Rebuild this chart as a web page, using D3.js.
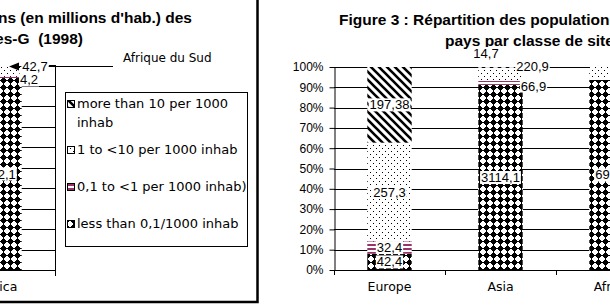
<!DOCTYPE html>
<html lang="fr">
<head>
<meta charset="UTF-8">
<title>Répartition des populations par classe</title>
<script src="https://cdn.jsdelivr.net/npm/d3@7"></script>
<style>
    body { margin: 0; background: #fff; }
    svg { display: block; }
</style>
</head>
<body>
<script>

    // catégories et séries (millions d'hab.)
    var categories = ["Europe", "Asia", "Africa"];
    var leftCategories = ["Africa"];
    var seriesNames = ["more than 10 per 1000 inhab", "1 to <10 per 1000 inhab",
                       "0,1 to <1 per 1000 inhab)", "less than 0,1/1000 inhab"];
    var moreThan10 = [197.38, 14.7, 0];
    var from1to10  = [257.3, 220.9, 42.7];
    var from01to1  = [32.4, 66.9, 4.2];
    var lessThan01 = [42.4, 3114.1, 692.1];
    var yTicks = [0, 0.1, 0.2, 0.3, 0.4, 0.5, 0.6, 0.7, 0.8, 0.9, 1];

    // ordre d'empilement, du bas vers le haut
    var stackKeys = ["lessThan01", "from01to1", "from1to10", "moreThan10"];
    var legendKeys = ["moreThan10", "from1to10", "from01to1", "lessThan01"];
    var fills = {
        moreThan10: "url(#pHatch)",
        from1to10: "url(#pDots)",
        from01to1: "url(#pStripes)",
        lessThan01: "url(#pDiamond)"
    };

    function makeRows(cats) {
        return cats.map(function (c) {
            var i = categories.indexOf(c);
            return {cat: c, lessThan01: lessThan01[i], from01to1: from01to1[i],
                    from1to10: from1to10[i], moreThan10: moreThan10[i]};
        });
    }

    var numFont = "Arial, 'Liberation Sans', sans-serif";
    var textFont = "'DejaVu Sans', Verdana, sans-serif";

    var svg = d3.select("body").append("svg")
        .attr("width", 610)
        .attr("height", 307);

    // motifs
    var defs = svg.append("defs");
    function pattern(id, w, h) {
        var p = defs.append("pattern").attr("id", id)
            .attr("patternUnits", "userSpaceOnUse")
            .attr("width", w).attr("height", h);
        p.append("rect").attr("width", w).attr("height", h).attr("fill", "#fff");
        return p;
    }
    pattern("pHatch", 8, 8).append("path")
        .attr("d", "M-2,-2L10,10M-2,6L2,10M6,-2L10,2")
        .attr("stroke", "#000").attr("stroke-width", 2.6);
    var pd = pattern("pDots", 6, 6);
    pd.append("rect").attr("x", 1).attr("y", 1).attr("width", 1).attr("height", 1).attr("fill", "#000");
    pd.append("rect").attr("x", 4).attr("y", 4).attr("width", 1).attr("height", 1).attr("fill", "#000");
    pattern("pStripes", 4, 4).append("rect")
        .attr("width", 4).attr("height", 2).attr("fill", "#993366");
    pattern("pDiamond", 7, 7).append("path")
        .attr("d", "M3.5,0.3L6.7,3.5L3.5,6.7L0.3,3.5Z").attr("fill", "#000")
        .attr("shape-rendering", "crispEdges");

    function fmt(v) { return String(v).replace(".", ","); }

    // étiquette avec fond blanc
    function addLabel(g, x, y, txt) {
        var lg = g.append("g");
        var t = lg.append("text")
            .attr("x", x).attr("y", y).attr("dy", "0.35em")
            .attr("text-anchor", "middle")
            .style("font-family", numFont).style("font-size", "13px")
            .text(txt);
        var b = t.node().getBBox();
        lg.insert("rect", "text")
            .attr("x", b.x - 1).attr("y", b.y + 1)
            .attr("width", b.width + 2).attr("height", b.height - 2)
            .attr("fill", "#fff");
    }

    function drawBars(g, rows, x, y, offsets, hidden) {
        var stacked = d3.stack().keys(stackKeys).offset(d3.stackOffsetExpand)(rows);
        stacked.forEach(function (layer) {
            g.selectAll(null)
                .data(layer)
                .enter()
                .append("rect")
                .attr("x", function (d) { return x(d.data.cat); })
                .attr("y", function (d) { return y(d[1]); })
                .attr("width", x.bandwidth())
                .attr("height", function (d) { return y(d[0]) - y(d[1]); })
                .attr("fill", fills[layer.key]);
        });
        stacked.forEach(function (layer) {
            layer.forEach(function (d) {
                var v = d.data[layer.key];
                var id = d.data.cat + "|" + layer.key;
                if (!v || hidden.indexOf(id) >= 0) return;
                var off = offsets[id] || [0, 0];
                addLabel(g, x(d.data.cat) + x.bandwidth() / 2 + off[0],
                         y((d[0] + d[1]) / 2) + off[1], fmt(v));
            });
        });
    }

    // ---------- graphique de gauche (coupé) ----------
    var left = svg.append("g");
    var xL = d3.scaleBand().domain(leftCategories).range([-56, 55])
        .paddingInner(0.6).paddingOuter(0.3);
    var yL = d3.scaleLinear().domain([0, 1]).range([270, 65]);

    left.selectAll("line.grid")
        .data(yTicks)
        .enter()
        .append("line")
        .attr("x1", -56).attr("x2", 55)
        .attr("y1", function (d) { return Math.round(yL(d)) + 0.5; })
        .attr("y2", function (d) { return Math.round(yL(d)) + 0.5; })
        .attr("stroke", "#000");
    left.append("line")
        .attr("x1", 55.5).attr("x2", 55.5).attr("y1", 65).attr("y2", 276)
        .attr("stroke", "#000");

    drawBars(left, makeRows(leftCategories), xL, yL,
        {"Africa|from1to10": [35.5, -5], "Africa|from01to1": [29.5, 2.5]}, []);

    left.append("g")
        .attr("transform", "translate(0,270)")
        .call(d3.axisBottom(xL).tickSize(0).tickPadding(12))
        .call(function (a) { a.select(".domain").remove(); })
        .selectAll("text")
        .style("font-family", textFont).style("font-size", "12.5px").attr("fill", "#000");

    // Afrique du Sud
    left.append("line")
        .attr("x1", 113).attr("x2", 18).attr("y1", 66.5).attr("y2", 66.5)
        .attr("stroke", "#000");
    left.append("path")
        .attr("d", "M9,66.5L19,62.5L19,70.5Z").attr("fill", "#000");
    addLabel(left, 35, 66, fmt(from1to10[2]));
    left.append("text")
        .attr("x", 123).attr("y", 62)
        .style("font-family", textFont).style("font-size", "12px")
        .text("Afrique du Sud");

    // titre (coupé)
    var tl = left.append("text")
        .attr("text-anchor", "end")
        .style("font-family", numFont).style("font-size", "15.5px")
        .style("font-weight", "bold").style("white-space", "pre");
    tl.append("tspan").attr("x", 192).attr("y", 23).text("Répartition des populations (en millions d'hab.) des");
    tl.append("tspan").attr("x", 83).attr("y", 43.5).text("pays par classe de sites-G  (1998)");

    // légende
    var leg = left.append("g");
    leg.append("rect")
        .attr("x", 65.5).attr("y", 92.5).attr("width", 182).attr("height", 154)
        .attr("fill", "#fff").attr("stroke", "#000");
    var ly = d3.scaleBand().domain(legendKeys).range([94.5, 242]);
    legendKeys.forEach(function (k, i) {
        var name = seriesNames[i];
        var t = leg.append("text")
            .style("font-family", textFont).style("font-size", "13px");
        // découpage en lignes selon la largeur de la boîte
        var words = name.split(" "), lines = [], cur = [];
        words.forEach(function (w) {
            cur.push(w);
            t.text(cur.join(" "));
            if (t.node().getComputedTextLength() > 170 && cur.length > 1) {
                cur.pop();
                lines.push(cur.join(" "));
                cur = [w];
            }
        });
        lines.push(cur.join(" "));
        t.text(null);
        var lh = 19;
        var y0 = ly(k) + ly.bandwidth() / 2 - (lines.length - 1) * lh / 2;
        lines.forEach(function (ln, j) {
            t.append("tspan").attr("x", 77).attr("y", y0 + j * lh).attr("dy", "0.35em").text(ln);
        });
        leg.append("rect")
            .attr("x", 67.5).attr("y", Math.round(y0 - 3.5) + 0.5)
            .attr("width", 7).attr("height", 7)
            .attr("fill", fills[k]).attr("stroke", "#000");
    });

    // cadre
    svg.append("path")
        .attr("d", "M0,302H257.5V0")
        .attr("fill", "none").attr("stroke", "#000").attr("stroke-width", 2.5);

    // ---------- graphique de droite ----------
    var right = svg.append("g");
    var xR = d3.scaleBand().domain(categories).range([334, 667])
        .paddingInner(0.6).paddingOuter(0.3);
    var yR = d3.scaleLinear().domain([0, 1]).range([270, 67]);

    var tr = right.append("text")
        .style("font-family", numFont).style("font-size", "15.5px")
        .style("font-weight", "bold").style("white-space", "pre");
    tr.append("tspan").attr("x", 339).attr("y", 25).text("Figure 3 : Répartition des populations (en millions d'hab.) des");
    tr.append("tspan").attr("x", 445).attr("y", 45.5).text("pays par classe de sites-G  (1998)");

    right.selectAll("line.grid")
        .data(yTicks.slice(1))
        .enter()
        .append("line")
        .attr("x1", 334).attr("x2", 667)
        .attr("y1", function (d) { return Math.round(yR(d)) + 0.5; })
        .attr("y2", function (d) { return Math.round(yR(d)) + 0.5; })
        .attr("stroke", "#000");

    drawBars(right, makeRows(categories), xR, yR,
        {"Asia|moreThan10": [-14.5, -14], "Asia|from1to10": [32, -8], "Asia|from01to1": [33, 3]},
        ["Africa|from1to10", "Africa|from01to1"]);

    // axe des valeurs
    var ya = right.append("g")
        .attr("transform", "translate(334.5,0)")
        .call(d3.axisLeft(yR).tickValues(yTicks).tickFormat(d3.format(".0%"))
            .tickSizeInner(5).tickSizeOuter(0).tickPadding(6));
    ya.selectAll("text").style("font-family", numFont).style("font-size", "12px").attr("fill", "#000");
    ya.selectAll("line, path").attr("stroke", "#000");

    // axe des catégories
    right.append("line")
        .attr("x1", 334).attr("x2", 667).attr("y1", 270.5).attr("y2", 270.5)
        .attr("stroke", "#000");
    right.selectAll("line.ctick")
        .data(d3.range(categories.length + 1))
        .enter()
        .append("line")
        .attr("x1", function (i) { return Math.round(xR.range()[0] + i * xR.step()) + 0.5; })
        .attr("x2", function (i) { return Math.round(xR.range()[0] + i * xR.step()) + 0.5; })
        .attr("y1", 270).attr("y2", 275)
        .attr("stroke", "#000");
    right.append("g")
        .attr("transform", "translate(0,270)")
        .call(d3.axisBottom(xR).tickSize(0).tickPadding(12))
        .call(function (a) { a.select(".domain").remove(); })
        .selectAll("text")
        .style("font-family", textFont).style("font-size", "12.5px").attr("fill", "#000");

</script>
</body>
</html>
